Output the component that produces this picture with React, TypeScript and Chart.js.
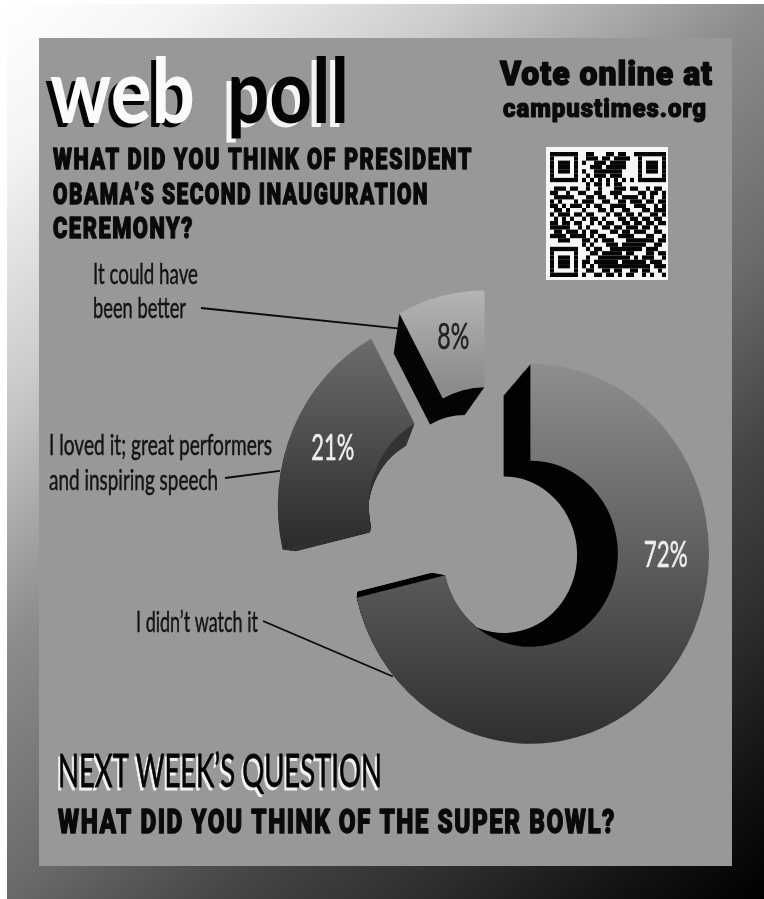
import React, { useEffect, useRef } from "react";
import { Chart, registerables } from "chart.js";

Chart.register(...registerables);

const categories = ["I didn’t watch it", "I loved it; great performers and inspiring speech", "It could have been better"];
const values = [72, 21, 8];
const valueLabels = ["72%", "21%", "8%"];
const questionLines = ["WHAT DID YOU THINK OF PRESIDENT", "OBAMA’S SECOND INAUGURATION", "CEREMONY?"];
const qrRows = [
  "11111110011000110110011111111",
  "10000010011101101111001000001",
  "10111010100111011110001011101",
  "10111010001110111110001011101",
  "10111010100111111100001011101",
  "10000010010111011100001000001",
  "11111110101010101010101111111",
  "00000000010110101100000000000",
  "01110110010010001110110010110",
  "11001001100110011100001101101",
  "01111100011011001011110101001",
  "10100010111001100110111011011",
  "11010111010110011110011100101",
  "01101000100011010011000110111",
  "10111011011000101101101001101",
  "01010100101101000110110110110",
  "11011011001010110011011011011",
  "11111001010001101101110110100",
  "01101110101100011011011100110",
  "11110111101011000111100011001",
  "00111000110101110001111111011",
  "00000000101000111011111100110",
  "11111110010110011111111011100",
  "10000010001101111101100011011",
  "10111010010011111111010111001",
  "10111010110111111011111101110",
  "10111010101011111111111110111",
  "10000010011001101100110110010",
  "11111110100110110101100101001",
];

const explode = [48, 45, 45];
const faceSpan: [number, number, string, string][] = [
  [-190, 190, "#8e8e8e", "#2f2f2f"],
  [-175, 40, "#6e6e6e", "#2c2c2c"],
  [-190, -95, "#b4b4b4", "#8c8c8c"],
];
const wallColors = ["#030303", "#333333", "#050505"];
const labelAngle = [90, 294, 347];
const labelRadius = [144, 144, 148];
const labelColor = ["#eeeeee", "#eeeeee", "#222222"];
const X_SQUASH = 0.94;
const VANISH = { x: 363, y: 560 };

const TEXT = "#0a0a0a";

function fit(ctx: CanvasRenderingContext2D, text: string, x: number, base: number, w: number, font: string, color: string, stroke = 0, spacing = 0) {
  ctx.save();
  ctx.font = font;
  (ctx as any).letterSpacing = `${spacing}px`;
  ctx.fillStyle = color;
  ctx.strokeStyle = color;
  ctx.lineJoin = "round";
  ctx.textAlign = "left";
  ctx.textBaseline = "alphabetic";
  const m = ctx.measureText(text).width;
  ctx.translate(x, base);
  ctx.scale(w / m, 1);
  ctx.fillText(text, 0, 0);
  if (stroke) {
    ctx.lineWidth = stroke;
    ctx.strokeText(text, 0, 0);
  }
  ctx.restore();
}

function place(ctx: CanvasRenderingContext2D, chart: any, el: any, i: number, s: number) {
  const area = chart.chartArea;
  const cx = (area.left + area.right) / 2;
  const cy = (area.top + area.bottom) / 2;
  const mid = (el.startAngle + el.endAngle) / 2;
  ctx.translate(VANISH.x, VANISH.y);
  ctx.scale(s, s);
  ctx.translate(-VANISH.x, -VANISH.y);
  ctx.translate(cx, cy);
  ctx.scale(X_SQUASH, 1);
  ctx.translate(-cx, -cy);
  ctx.translate(Math.cos(mid) * explode[i], Math.sin(mid) * explode[i]);
}

function facePoint(chart: any, i: number, deg: number, r: number) {
  const el = chart.getDatasetMeta(0).data[i];
  const area = chart.chartArea;
  const cx = (area.left + area.right) / 2;
  const cy = (area.top + area.bottom) / 2;
  const mid = (el.startAngle + el.endAngle) / 2;
  const a = (deg - 90) * Math.PI / 180;
  const px = cx + Math.cos(mid) * explode[i] + Math.cos(a) * r;
  const py = cy + Math.sin(mid) * explode[i] + Math.sin(a) * r;
  return { x: cx + (px - cx) * X_SQUASH, y: py };
}

const posterPlugin = {
  id: "poster",
  beforeDraw(chart: any) {
    const ctx: CanvasRenderingContext2D = chart.ctx;
    ctx.save();
    ctx.fillStyle = "#ffffff";
    ctx.fillRect(0, 0, 764, 899);
    const g = ctx.createLinearGradient(7, 4, 764, 899);
    [[0, "#ffffff"], [0.1, "#f4f4f4"], [0.25, "#cccccc"], [0.42, "#8c8c8c"], [0.58, "#6a6a6a"], [0.7, "#454545"], [0.8, "#303030"], [0.92, "#111111"], [1, "#000000"]].forEach(([o, c]) => g.addColorStop(o as number, c as string));
    ctx.fillStyle = g;
    ctx.fillRect(7, 4, 757, 895);
    ctx.fillStyle = "#989898";
    ctx.fillRect(39, 38, 693, 828);
    ctx.fillStyle = "#f7f7f7";
    ctx.fillRect(546, 147, 122, 133);
    ctx.fillStyle = "#050505";
    qrRows.forEach((row, r) => {
      [...row].forEach((c, k) => {
        if (c === "1") ctx.fillRect(550 + k * 4, 152 + r * 4.31, 4, 4.31);
      });
    });
    ctx.restore();
  },
  beforeDatasetsDraw(chart: any) {
    const ctx: CanvasRenderingContext2D = chart.ctx;
    const arcs = chart.getDatasetMeta(0).data;
    arcs.forEach((el: any, i: number) => {
      const orig = el.options;
      const wall = Object.create(orig);
      wall.backgroundColor = wallColors[i];
      el.options = wall;
      for (let s = 0.84; s < 0.999; s += 0.005) {
        ctx.save();
        place(ctx, chart, el, i, s);
        el.draw(ctx);
        ctx.restore();
      }
      el.options = orig;
      ctx.save();
      place(ctx, chart, el, i, 1);
      el.draw(ctx);
      ctx.restore();
    });
    return false;
  },
  afterDraw(chart: any) {
    const ctx: CanvasRenderingContext2D = chart.ctx;
    // leader lines
    ctx.save();
    ctx.strokeStyle = "#0a0a0a";
    ctx.lineWidth = 1.8;
    const leaders: [number, number, number, number, number][] = [
      [0, 230, 191, 263, 621],
      [1, 280.5, 191, 225, 478],
      [2, 331.4, 172, 201, 308],
    ];
    leaders.forEach(([i, deg, r, x, y]) => {
      const p = facePoint(chart, i, deg, r);
      ctx.beginPath();
      ctx.moveTo(x, y);
      ctx.lineTo(p.x, p.y);
      ctx.stroke();
    });
    ctx.restore();

    // percent labels
    valueLabels.forEach((t, i) => {
      const p = facePoint(chart, i, labelAngle[i], labelRadius[i]);
      const w = [44, 43, 32][i];
      fit(ctx, t, p.x - w / 2, p.y + 13, w, "400 37px Lato", labelColor[i], 0.5);
    });

    // headings
    const big = "700 90px Lato";
    fit(ctx, "web", 45, 127, 145, big, "#050505");
    fit(ctx, "web", 50, 123, 145, big, "#fafafa");
    fit(ctx, "poll", 222, 127, 122, big, "#f5f5f5");
    fit(ctx, "poll", 227, 123, 122, big, "#050505");

    const heavy = "900 29px Roboto";
    const qw = [420, 376, 141];
    const qb = [169, 204, 238];
    questionLines.forEach((t, i) => fit(ctx, t, 53, qb[i], qw[i], heavy, TEXT, 1.3, 2));

    fit(ctx, "Vote online at", 500, 85, 213, "900 34px Roboto", TEXT, 1.4, 1);
    fit(ctx, "campustimes.org", 503, 117, 204, "900 26px Roboto", TEXT, 1.1, 1);

    const lab = "400 29px Lato";
    fit(ctx, "It could have", 93, 284, 105, lab, "#141414", 0.5);
    fit(ctx, "been better", 93, 318, 93, lab, "#141414", 0.5);
    fit(ctx, "I loved it; great performers", 49, 455, 223, lab, "#141414", 0.5);
    fit(ctx, "and inspiring speech", 49, 490, 169, lab, "#141414", 0.5);
    fit(ctx, categories[0], 136, 632, 122, lab, "#141414", 0.5);

    const nx = "400 47px Lato";
    fit(ctx, "NEXT WEEK’S QUESTION", 56, 790, 324, nx, "#f0f0f0", 0.8);
    fit(ctx, "NEXT WEEK’S QUESTION", 58, 787, 324, nx, "#050505", 0.8);
    fit(ctx, "WHAT DID YOU THINK OF THE SUPER BOWL?", 58, 833, 558, "900 33px Roboto", TEXT, 1.3, 2);
  },
};

export default function App() {
  const ref = useRef<HTMLCanvasElement>(null);
  useEffect(() => {
    if (!ref.current) return;
    const chart = new Chart(ref.current, {
      type: "doughnut",
      data: {
        labels: categories,
        datasets: [
          {
            data: values,
            borderWidth: 0,
            backgroundColor: (c: any) => {
              const area = c.chart.chartArea;
              if (!area) return "#777777";
              const cy = (area.top + area.bottom) / 2;
              const [a, b, ca, cb] = faceSpan[c.dataIndex] || faceSpan[0];
              const g = c.chart.ctx.createLinearGradient(0, cy + a, 0, cy + b);
              g.addColorStop(0, ca);
              g.addColorStop(1, cb);
              return g;
            },
          },
        ],
      },
      options: {
        responsive: false,
        animation: false,
        devicePixelRatio: 1,
        events: [],
        radius: 190,
        cutout: "49%",
        layout: { padding: { left: 226, top: 149, right: 0, bottom: 0 } },
        plugins: { legend: { display: false }, title: { display: false }, tooltip: { enabled: false } },
      } as any,
      plugins: [posterPlugin as any],
    });
    return () => chart.destroy();
  }, []);
  return (
    <div style={{ position: "absolute", left: 0, top: 0, width: 764, height: 899 }}>
      <canvas ref={ref} width={764} height={899} style={{ display: "block" }} />
    </div>
  );
}
